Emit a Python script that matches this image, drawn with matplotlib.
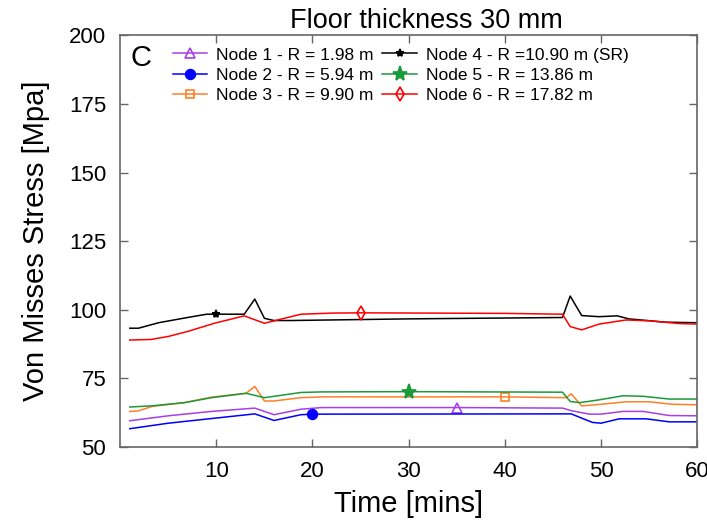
import numpy as np
import matplotlib.pyplot as plt

plt.rcParams.update({
    "font.family": ["Liberation Sans", "DejaVu Sans"],
    "xtick.direction": "in",
    "ytick.direction": "in",
    "xtick.top": True,
    "ytick.right": True,
})

# -----------------------------------------
# Data
# -----------------------------------------

t_node1 = [1, 5, 9.5, 14, 16, 18.8, 21, 35, 46, 47, 48.8, 50, 52.3, 54.4, 57.1, 60]
v_node1 = [59.6, 61.4, 63.0, 64.2, 61.8, 63.8, 64.4, 64.4, 64.2, 63.2, 62.0, 62.0, 63.0, 63.0, 61.5, 61.4]

t_node2 = [1, 5, 9.5, 14, 16, 18.8, 20, 46.9, 49.1, 50, 51.9, 54.7, 57.1, 60]
v_node2 = [56.7, 58.7, 60.4, 62.1, 59.7, 61.8, 62.0, 62.1, 59.0, 58.7, 60.3, 60.3, 59.2, 59.2]

t_node3 = [1, 1.9, 3.3, 6.7, 9.5, 13.1, 14, 15, 16, 18.8, 21, 40, 46.4, 46.9, 48, 50, 52.6, 55, 57.4, 60]
v_node3 = [63.0, 63.2, 64.8, 66.2, 68.2, 69.6, 72.1, 66.8, 66.8, 68.0, 68.3, 68.3, 68.0, 69.4, 65.0, 65.6, 66.5, 66.5, 65.6, 65.4]

t_node4 = [1, 1.9, 4, 7, 9, 10, 12.9, 14, 15, 16, 17.7, 30, 46, 46.8, 48, 49.8, 51.7, 52.9, 56.7, 60]
v_node4 = [93.3, 93.3, 95.3, 97.2, 98.4, 98.4, 98.4, 103.9, 96.9, 96.1, 96.1, 96.7, 97.2, 105.0, 97.9, 97.5, 97.8, 96.7, 95.5, 95.3]

t_node5 = [1, 3.2, 6.7, 9.5, 13.1, 15, 18.8, 21, 30, 46, 46.8, 47.8, 49.8, 52.3, 54.4, 57.1, 60]
v_node5 = [64.6, 65.0, 66.2, 68.0, 69.6, 68.0, 69.9, 70.1, 70.2, 70.0, 66.6, 66.2, 67.2, 68.7, 68.5, 67.5, 67.5]

t_node6 = [1, 3.2, 5, 7, 9.8, 12.9, 15, 18.8, 22, 25, 40, 46, 46.8, 48, 49.8, 52.6, 55, 58.1, 60]
v_node6 = [89.0, 89.2, 90.3, 92.1, 95.1, 97.8, 95.1, 98.4, 98.8, 98.9, 98.7, 98.4, 93.9, 92.7, 94.8, 96.3, 96.0, 95.0, 94.8]

labels = [
    "Node 1 - R = 1.98 m",
    "Node 2 - R = 5.94 m",
    "Node 3 - R = 9.90 m",
    "Node 4 - R =10.90 m (SR)",
    "Node 5 - R = 13.86 m",
    "Node 6 - R = 17.82 m",
]

# time at which each curve carries its single marker
marker_times = [35, 20, 40, 10, 30, 25]

series = [
    (t_node1, v_node1),
    (t_node2, v_node2),
    (t_node3, v_node3),
    (t_node4, v_node4),
    (t_node5, v_node5),
    (t_node6, v_node6),
]

styles = [
    dict(color="#a640e6", marker="^", mfc="none", ms=7),
    dict(color="#0000ff", marker="o", mfc="#0000ff", ms=7),
    dict(color="#ff7f27", marker="s", mfc="none", ms=5.5),
    dict(color="#000000", marker="*", mfc="#000000", ms=6),
    dict(color="#1a9a3a", marker="*", mfc="#1a9a3a", ms=11),
    dict(color="#ff0000", marker="d", mfc="none", ms=7),
]

# -----------------------------------------
# Plot
# -----------------------------------------

fig = plt.figure(figsize=(7.07, 5.26), dpi=100)
ax = fig.add_axes([0.170, 0.150, 0.816, 0.783])

for (t, v), lab, st, mt in zip(series, labels, styles, marker_times):
    idx = t.index(mt)
    ax.plot(
        t, v,
        color=st["color"],
        linewidth=1.1,
        marker=st["marker"],
        markersize=st["ms"],
        markerfacecolor=st["mfc"],
        markeredgecolor=st["color"],
        markeredgewidth=1.2,
        markevery=[idx],
        label=lab,
    )

ax.set_xlim(0, 60)
ax.set_ylim(50, 200)
ax.set_xticks([10, 20, 30, 40, 50, 60])
ax.set_yticks([50, 75, 100, 125, 150, 175, 200])

ax.tick_params(labelsize=16, length=6, width=1, color="0.4", pad=10)
for s in ax.spines.values():
    s.set_color("0.4")
    s.set_linewidth(1.2)

ax.set_xlabel("Time [mins]", fontsize=21, labelpad=6)
ax.set_ylabel("Von Misses Stress [Mpa]", fontsize=21, labelpad=14)
ax.set_title("Floor thickness 30 mm", fontsize=19.5, pad=5, x=0.53)

ax.text(0.018, 0.978, "C", transform=ax.transAxes, fontsize=21,
        va="top", ha="left")

ax.legend(
    ncol=2,
    loc="upper left",
    bbox_to_anchor=(0.07, 1.0),
    frameon=False,
    fontsize=12.5,
    handlelength=2.0,
    handletextpad=0.5,
    columnspacing=0.5,
    labelspacing=0.3,
    borderaxespad=0.3,
)

fig.savefig("out.png", dpi=100)
